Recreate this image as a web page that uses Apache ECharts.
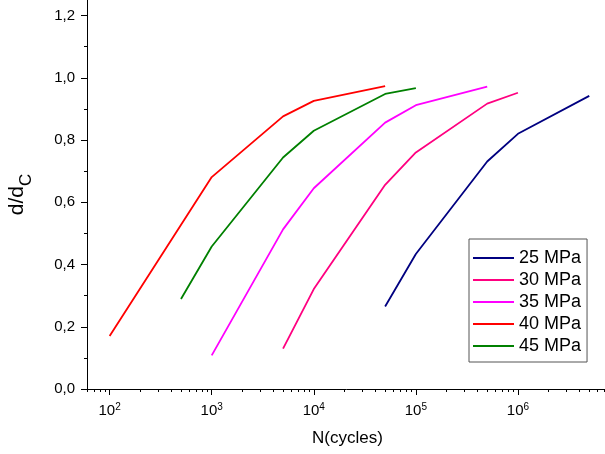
<!DOCTYPE html>
<html>
<head>
<meta charset="utf-8">
<script src="https://cdn.jsdelivr.net/npm/echarts@6/dist/echarts.min.js"></script>
<style>
html,body{margin:0;padding:0;background:#fff;}
#chart{width:605px;height:454px;}
</style>
</head>
<body>
<div id="chart"></div>
<script>
// ---- data ----
const seriesNames = ['25 MPa', '30 MPa', '35 MPa', '40 MPa', '45 MPa'];
const cycles25 = [5e4, 1e5, 5e5, 1e6, 5e6];
const ratio25  = [0.265, 0.434, 0.731, 0.820, 0.942];
const cycles30 = [5e3, 1e4, 5e4, 1e5, 5e5, 1e6];
const ratio30  = [0.130, 0.321, 0.656, 0.760, 0.917, 0.952];
const cycles35 = [1e3, 5e3, 1e4, 5e4, 1e5, 5e5];
const ratio35  = [0.108, 0.513, 0.645, 0.856, 0.912, 0.972];
const cycles40 = [1e2, 1e3, 5e3, 1e4, 5e4];
const ratio40  = [0.170, 0.681, 0.876, 0.926, 0.973];
const cycles45 = [5e2, 1e3, 5e3, 1e4, 5e4, 1e5];
const ratio45  = [0.289, 0.458, 0.744, 0.830, 0.948, 0.967];
const xMajorTicks = [1e2, 1e3, 1e4, 1e5, 1e6, 1e7];
const xLabelTicks = [1e2, 1e3, 1e4, 1e5, 1e6];
const yMajorTicks = [0, 0.2, 0.4, 0.6, 0.8, 1.0, 1.2];
const yMinorTicks = [0.1, 0.3, 0.5, 0.7, 0.9, 1.1];

const colors = ['#000080', '#FF0080', '#FF00FF', '#FF0000', '#008000'];
const FONT = '"Liberation Sans", Arial, sans-serif';

const xMinorTicks = [];
for (let e = 1; e <= 6; e++) {
  for (let m = 2; m <= 9; m++) {
    const v = m * Math.pow(10, e);
    if (v >= 60) xMinorTicks.push(v);
  }
}

const pairs = (xs, ys) => xs.map((x, i) => [x, ys[i]]);
const allCycles = [cycles25, cycles30, cycles35, cycles40, cycles45];
const allRatios = [ratio25, ratio30, ratio35, ratio40, ratio45];

const xMin = 60, xMax = 1e7;

const chart = echarts.init(document.getElementById('chart'), null, {renderer: 'canvas'});
const option = {
  backgroundColor: '#fff',
  animation: false,
  textStyle: {fontFamily: FONT},
  grid: {left: 87, top: 0, bottom: 65, right: -15, containLabel: false, outerBoundsMode: 'none'},
  xAxis: [
    {
      type: 'log', logBase: 10, min: xMin, max: xMax, position: 'bottom',
      name: 'N(cycles)', nameLocation: 'middle', nameGap: 41,
      nameTextStyle: {fontSize: 17, color: '#000', fontFamily: FONT, padding: [0, 12, 0, 0]},
      axisLine: {onZero: false, lineStyle: {color: '#000', width: 1}},
      axisTick: {show: true, inside: false, length: 6, customValues: xMajorTicks, lineStyle: {color: '#000', width: 1}},
      axisLabel: {
        customValues: xLabelTicks, margin: 13, color: '#000',
        formatter: v => '{b|10}{s|' + Math.round(Math.log10(v)) + '}',
        rich: {
          b: {fontSize: 15, fontFamily: FONT, color: '#000', lineHeight: 18},
          s: {fontSize: 10, fontFamily: FONT, color: '#000', lineHeight: 8, verticalAlign: 'top'}
        }
      },
      splitLine: {show: false}
    },
    {
      type: 'log', logBase: 10, min: xMin, max: xMax, position: 'bottom',
      axisLine: {show: false, onZero: false},
      axisTick: {show: true, inside: false, length: 3, customValues: xMinorTicks, lineStyle: {color: '#000', width: 1}},
      axisLabel: {show: false},
      splitLine: {show: false}
    }
  ],
  yAxis: [
    {
      type: 'value', min: 0, max: 1.25, position: 'left',
      name: '{a|d/d}{b|C}', nameLocation: 'middle', nameGap: 42, nameRotate: 90,
      nameTextStyle: {
        color: '#000',
        rich: {
          a: {fontSize: 21, fontFamily: FONT, color: '#000', lineHeight: 24, verticalAlign: 'top'},
          b: {fontSize: 17, fontFamily: FONT, color: '#000', lineHeight: 38, verticalAlign: 'middle'}
        }
      },
      axisLine: {show: true, onZero: false, lineStyle: {color: '#000', width: 1}},
      axisTick: {show: true, inside: false, length: 6, customValues: yMajorTicks, lineStyle: {color: '#000', width: 1}},
      axisLabel: {
        customValues: yMajorTicks, margin: 12, color: '#000', fontSize: 15, fontFamily: FONT,
        formatter: v => v.toFixed(1).replace('.', ',')
      },
      splitLine: {show: false}
    },
    {
      type: 'value', min: 0, max: 1.25, position: 'left',
      axisLine: {show: false, onZero: false},
      axisTick: {show: true, inside: false, length: 3, customValues: yMinorTicks, lineStyle: {color: '#000', width: 1}},
      axisLabel: {show: false},
      splitLine: {show: false}
    }
  ],
  legend: {
    orient: 'vertical', left: 469, top: 239,
    padding: [9, 6, 6, 4],
    borderColor: '#555', borderWidth: 1, backgroundColor: '#fff',
    itemWidth: 41, itemHeight: 14, itemGap: 2,
    icon: 'path://M0,6 L41,6 L41,8 L0,8 Z',
    textStyle: {fontSize: 18, fontFamily: FONT, color: '#000', lineHeight: 20},
    data: seriesNames
  },
  series: seriesNames.map((name, i) => ({
    name: name,
    type: 'line',
    xAxisIndex: 0, yAxisIndex: 0,
    data: pairs(allCycles[i], allRatios[i]),
    showSymbol: false, symbol: 'none',
    lineStyle: {color: colors[i], width: 1.8},
    itemStyle: {color: colors[i]},
    z: 5
  }))
};
chart.setOption(option);
</script>
</body>
</html>
